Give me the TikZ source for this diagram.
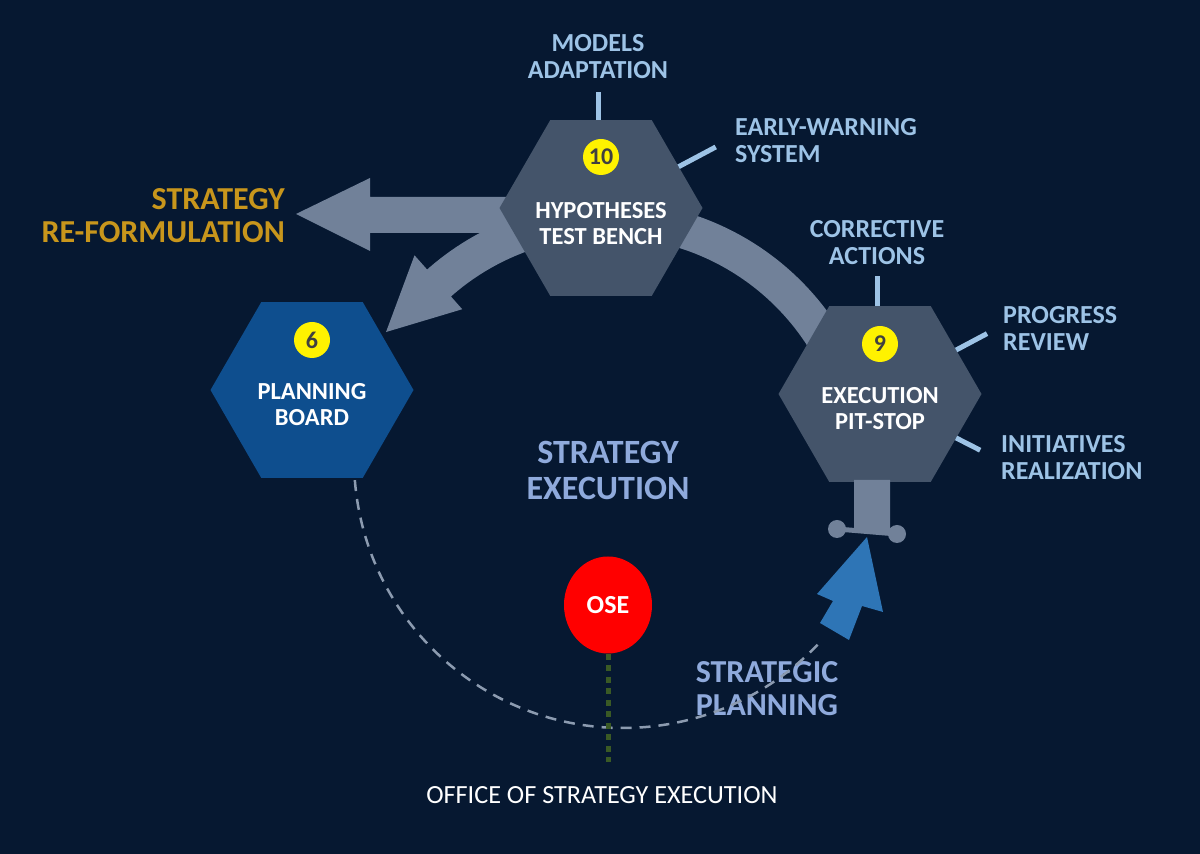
\documentclass[tikz,border=0pt]{standalone}
\usepackage{fontspec}
\setmainfont{Carlito}
\usetikzlibrary{shapes.geometric, positioning}

\definecolor{nightbg}{HTML}{061831}
\definecolor{hexgray}{HTML}{44546A}
\definecolor{boardblue}{HTML}{0E4E8E}
\definecolor{bandgray}{HTML}{718199}
\definecolor{spokeblue}{HTML}{9DC3E6}
\definecolor{cyclelilac}{HTML}{8FAADC}
\definecolor{reformgold}{HTML}{C8961C}
\definecolor{planblue}{HTML}{2E75B6}
\definecolor{dashgray}{HTML}{8C9BB0}
\definecolor{oseline}{HTML}{3A5A25}
\definecolor{numgray}{HTML}{404040}

\tikzset{
  hexstage/.style={regular polygon, regular polygon sides=6, minimum size=203pt,
    inner sep=0pt, outer sep=0pt, fill=hexgray},
  numdot/.style={circle, fill=yellow, minimum size=36pt, inner sep=0pt, text=numgray,
    font=\fontsize{24}{24}\selectfont\bfseries},
  hexlabel/.style={align=center, inner sep=0pt, text=white,
    font=\fontsize{24.5}{26}\selectfont\bfseries},
  spoketext/.style={align=center, inner sep=0pt, text=spokeblue,
    font=\fontsize{26}{27}\selectfont\bfseries},
  spoke/.style={draw=spokeblue, line width=5pt},
  cycletext/.style={align=center, inner sep=0pt, text=cyclelilac,
    font=\fontsize{34}{36}\selectfont\bfseries},
}

\begin{document}
\begin{tikzpicture}[x=1pt, y=1pt]
  % background
  \fill[nightbg] (0,0) rectangle (1200,854);
  \useasboundingbox (0,0) rectangle (1200,854);

  % cycle band with the arrow back to the planning board
  \coordinate (hub) at (608,380);
  \begin{scope}[shift={(hub)}]
    \fill[bandgray] (30:237) arc[start angle=30, end angle=131.5, radius=237]
      -- (131.5:220) -- (147.4:263.5) -- (131.5:292) -- (131.5:273)
      arc[start angle=131.5, end angle=30, radius=273] -- cycle;
  \end{scope}
  % arrow out to re-formulation
  \fill[bandgray] (530,657) -- (370,657) -- (370,676) -- (296,640)
    -- (370,603) -- (370,621) -- (530,621) -- cycle;

  % stages
  \node[hexstage] (hyp) at (601,646) {};
  \node[hexstage, fill=boardblue] (plan) at (312,464) {};
  \node[hexstage] (exec) at (880,460) {};

  % pit-stop stem and bar
  \coordinate (stop-l) at (837,325);
  \coordinate (stop-r) at (897,320);
  \fill[bandgray] ([xshift=-26pt, yshift=2pt]exec.south) -- ([xshift=10pt, yshift=2pt]exec.south)
    -- ([xshift=10pt, yshift=-52pt]exec.south) -- ([xshift=-26pt, yshift=-47pt]exec.south) -- cycle;
  \draw[bandgray, line width=5pt] (stop-l) -- (stop-r);
  \fill[bandgray] (stop-l) circle[radius=9] (stop-r) circle[radius=9];

  \node[numdot] (hyp-num) at ([yshift=51pt]hyp.center) {10};
  \node[numdot] (plan-num) at ([yshift=50pt]plan.center) {6};
  \node[numdot] (exec-num) at ([yshift=50pt]exec.center) {9};

  \node[hexlabel] (hyp-txt) at ([yshift=-16pt]hyp.center) {HYPOTHESES\\TEST BENCH};
  \node[hexlabel] (plan-txt) at ([yshift=-15pt]plan.center) {PLANNING\\BOARD};
  \node[hexlabel] (exec-txt) at ([yshift=-15pt]exec.center) {EXECUTION\\PIT-STOP};

  % spokes and their labels
  \node[spoketext] (models) at (598,797) {MODELS\\ADAPTATION};
  \node[spoketext, anchor=west, align=left] (early) at (735,713) {EARLY-WARNING\\SYSTEM};
  \node[spoketext] (corrective) at (877,611.5) {CORRECTIVE\\ACTIONS};
  \node[spoketext, anchor=west, align=left] (progress) at (1003,525.5) {PROGRESS\\REVIEW};
  \node[spoketext, anchor=west, align=left] (initiatives) at (1001,396) {INITIATIVES\\REALIZATION};

  \draw[spoke] ([xshift=-3pt]hyp.north) -- ++(0,28);
  \draw[spoke] (hyp.28) -- ++(28:42);
  \draw[spoke] ([xshift=-3pt]exec.north) -- ++(0,30);
  \draw[spoke] (exec.30) -- ++(28:35);
  \draw[spoke] (exec.-30) -- ++(-27:27);

  % cycle texts
  \node[cycletext, anchor=east, align=right, text=reformgold,
    font=\fontsize{32}{33}\selectfont\bfseries] (reform) at (285,638.5) {STRATEGY\\RE-FORMULATION};
  \node[cycletext] (stratexec) at (608,384) {STRATEGY\\EXECUTION};
  \node[cycletext, font=\fontsize{32}{33}\selectfont\bfseries] (stratplan) at (767,165.5) {STRATEGIC\\PLANNING};

  % strategic planning path
  \draw[dashgray, line width=2.5pt, dash pattern=on 11pt off 8pt]
    (623,395) ++(184.5:269) arc[start angle=184.5, end angle=318, radius=269];
  \fill[planblue] (867,317) -- (883,242) -- (862,248) -- (849,214)
    -- (820,231) -- (833,253) -- (817,260) -- cycle;

  % office of strategy execution
  \node[ellipse, fill=red, minimum width=88pt, minimum height=97pt, inner sep=0pt,
    text=white, font=\fontsize{26}{26}\selectfont\bfseries] (ose) at (608,249) {OSE};
  \node[inner sep=0pt, text=white, font=\fontsize{26.2}{26}\selectfont] (office) at (602,59)
    {OFFICE OF STRATEGY EXECUTION};
  \draw[oseline, line width=5pt, dash pattern=on 6pt off 5.5pt, shorten >=24pt]
    (ose.south) -- (ose.south |- office.north);
\end{tikzpicture}
\end{document}
